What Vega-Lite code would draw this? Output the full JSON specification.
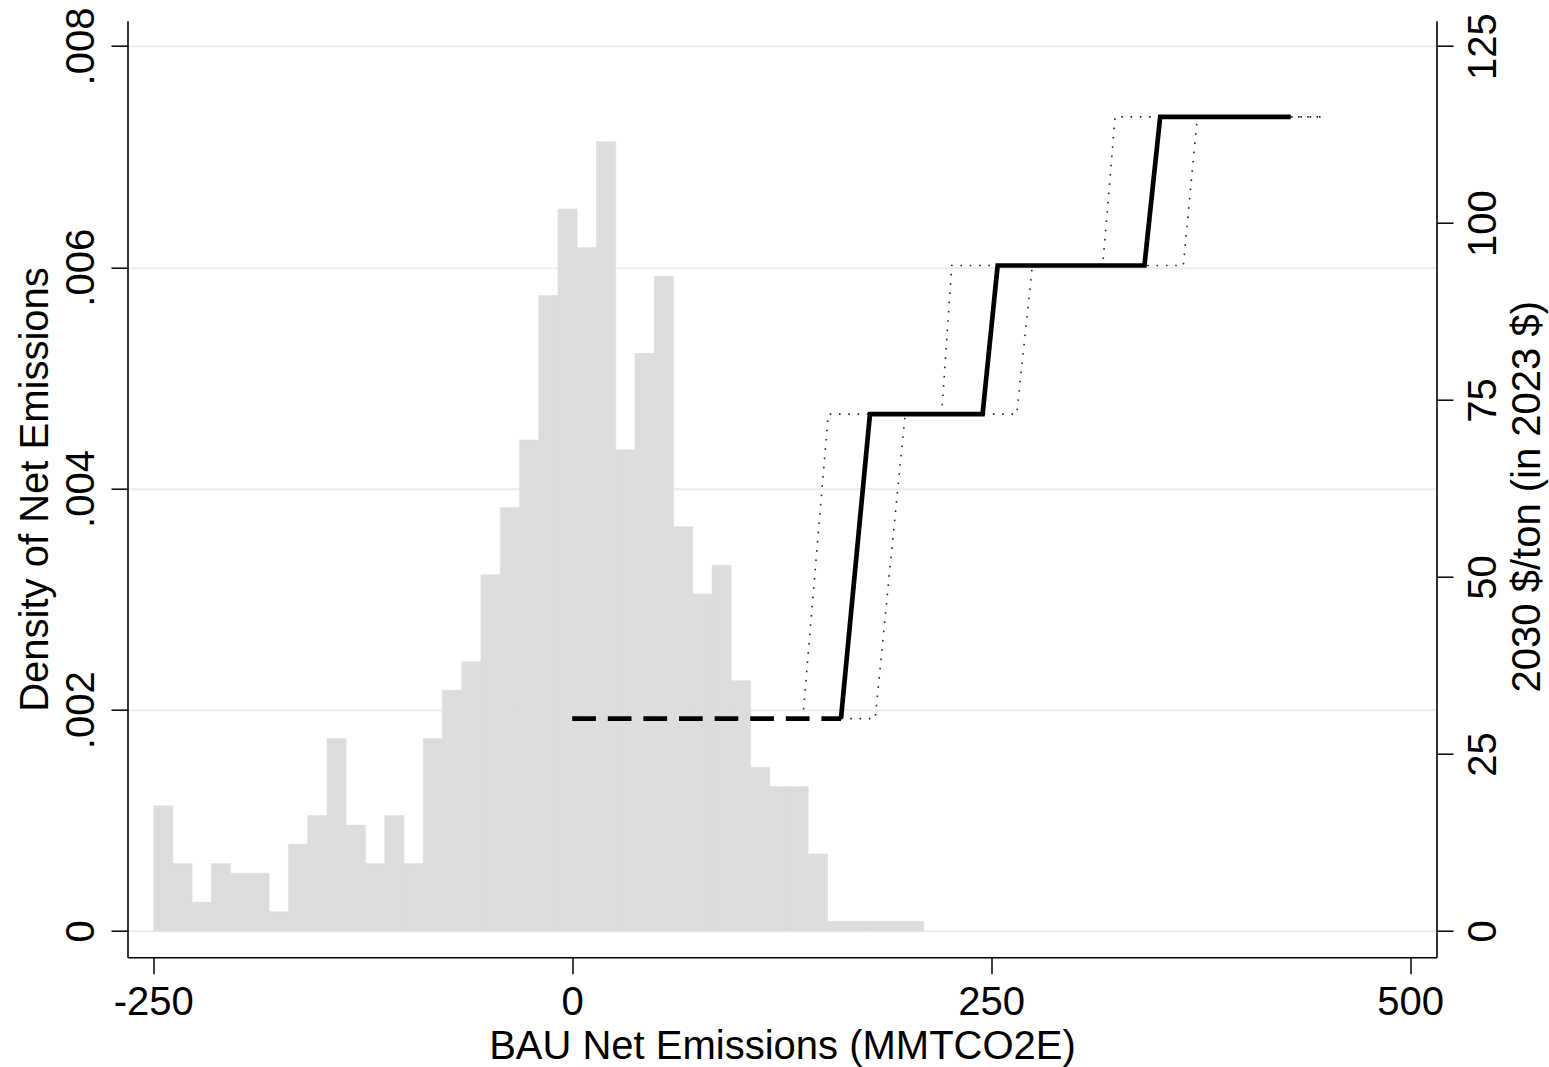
{
  "$schema": "https://vega.github.io/schema/vega-lite/v6.json",
  "width": 1309,
  "height": 936.6,
  "autosize": {"type": "none"},
  "padding": {"left": 127.5, "top": 20.7, "right": 112.5, "bottom": 109.7},
  "background": "white",
  "config": {
    "view": {"stroke": null},
    "font": "Liberation Sans",
    "axis": {
      "labelFont": "Liberation Sans",
      "titleFont": "Liberation Sans",
      "labelFontSize": 40,
      "titleFontSize": 40,
      "titleFontWeight": "normal",
      "labelColor": "#000000",
      "titleColor": "#000000",
      "domainColor": "#000000",
      "domainWidth": 1.6,
      "tickColor": "#000000",
      "tickWidth": 1.5,
      "tickSize": 16.5,
      "labelFlush": false,
      "labelOverlap": false
    },
    "axisBottom": {
      "labelExpr": "datum.value < 0 ? '-' + format(-datum.value, 'd') : format(datum.value, 'd')",
      "labelBaseline": "alphabetic",
      "labelPadding": 40.5,
      "grid": false,
      "titleX": 654.5,
      "titleY": 100.7,
      "titleAlign": "center",
      "titleBaseline": "alphabetic"
    }
  },
  "datasets": {
    "hist": [
      {"x0": -249.80, "x1": -238.31, "density": 0.001131},
      {"x0": -238.31, "x1": -226.82, "density": 0.000609},
      {"x0": -226.82, "x1": -215.33, "density": 0.000261},
      {"x0": -215.33, "x1": -203.84, "density": 0.000609},
      {"x0": -203.84, "x1": -192.35, "density": 0.000522},
      {"x0": -192.35, "x1": -180.86, "density": 0.000522},
      {"x0": -180.86, "x1": -169.37, "density": 0.000174},
      {"x0": -169.37, "x1": -157.88, "density": 0.000783},
      {"x0": -157.88, "x1": -146.39, "density": 0.001044},
      {"x0": -146.39, "x1": -134.90, "density": 0.001741},
      {"x0": -134.90, "x1": -123.41, "density": 0.000957},
      {"x0": -123.41, "x1": -111.92, "density": 0.000609},
      {"x0": -111.92, "x1": -100.43, "density": 0.001044},
      {"x0": -100.43, "x1": -88.94, "density": 0.000609},
      {"x0": -88.94, "x1": -77.45, "density": 0.001741},
      {"x0": -77.45, "x1": -65.96, "density": 0.002176},
      {"x0": -65.96, "x1": -54.47, "density": 0.002437},
      {"x0": -54.47, "x1": -42.98, "density": 0.003220},
      {"x0": -42.98, "x1": -31.49, "density": 0.003829},
      {"x0": -31.49, "x1": -20.00, "density": 0.004439},
      {"x0": -20.00, "x1": -8.51, "density": 0.005744},
      {"x0": -8.51, "x1": 2.98, "density": 0.006527},
      {"x0": 2.98, "x1": 14.47, "density": 0.006179},
      {"x0": 14.47, "x1": 25.96, "density": 0.007136},
      {"x0": 25.96, "x1": 37.45, "density": 0.004351},
      {"x0": 37.45, "x1": 48.94, "density": 0.005222},
      {"x0": 48.94, "x1": 60.43, "density": 0.005918},
      {"x0": 60.43, "x1": 71.92, "density": 0.003655},
      {"x0": 71.92, "x1": 83.41, "density": 0.003046},
      {"x0": 83.41, "x1": 94.90, "density": 0.003307},
      {"x0": 94.90, "x1": 106.39, "density": 0.002263},
      {"x0": 106.39, "x1": 117.88, "density": 0.001480},
      {"x0": 117.88, "x1": 129.37, "density": 0.001305},
      {"x0": 129.37, "x1": 140.86, "density": 0.001305},
      {"x0": 140.86, "x1": 152.35, "density": 0.000696},
      {"x0": 152.35, "x1": 163.84, "density": 0.000087},
      {"x0": 163.84, "x1": 175.33, "density": 0.000087},
      {"x0": 175.33, "x1": 186.82, "density": 0.000087},
      {"x0": 186.82, "x1": 198.31, "density": 0.000087},
      {"x0": 198.31, "x1": 209.80, "density": 0.000087}
    ],
    "lines": [
      {"series": "lower", "x": 137.6, "price": 30},
      {"series": "lower", "x": 152.8, "price": 73},
      {"series": "lower", "x": 220.5, "price": 73},
      {"series": "lower", "x": 226.5, "price": 94},
      {"series": "lower", "x": 316.6, "price": 94},
      {"series": "lower", "x": 324.0, "price": 115},
      {"series": "lower", "x": 449.3, "price": 115},
      {"series": "upper", "x": 160.4, "price": 30},
      {"series": "upper", "x": 180.8, "price": 30},
      {"series": "upper", "x": 198.7, "price": 73},
      {"series": "upper", "x": 265.3, "price": 73},
      {"series": "upper", "x": 274.6, "price": 94},
      {"series": "upper", "x": 364.7, "price": 94},
      {"series": "upper", "x": 373.1, "price": 115},
      {"series": "upper", "x": 449.3, "price": 115},
      {"series": "dashed", "x": 0, "price": 30},
      {"series": "dashed", "x": 160.4, "price": 30},
      {"series": "solid", "x": 160.4, "price": 30},
      {"series": "solid", "x": 177.7, "price": 73},
      {"series": "solid", "x": 244.9, "price": 73},
      {"series": "solid", "x": 253.9, "price": 94},
      {"series": "solid", "x": 341.5, "price": 94},
      {"series": "solid", "x": 350.9, "price": 115},
      {"series": "solid", "x": 428.8, "price": 115}
    ]
  },
  "layer": [
    {
      "data": {"name": "hist"},
      "mark": {"type": "rect", "color": "#dddddd", "stroke": "#dddddd", "strokeWidth": 0.5},
      "encoding": {
        "x": {
          "field": "x0", "type": "quantitative",
          "scale": {"domain": [-265.4, 515.8], "nice": false, "zero": false},
          "axis": {"title": "BAU Net Emissions (MMTCO2E)", "values": [-250, 0, 250, 500]}
        },
        "x2": {"field": "x1"},
        "y": {
          "field": "density", "type": "quantitative",
          "scale": {"domain": [-0.000238, 0.008229], "nice": false, "zero": false},
          "axis": {
            "orient": "left",
            "values": [0, 0.002, 0.004, 0.006, 0.008],
            "labelExpr": "datum.value == 0 ? '0' : replace(format(datum.value, '.3f'), '0.', '.')",
            "labelAngle": 270,
            "labelAlign": "center",
            "labelBaseline": "alphabetic",
            "labelPadding": 17.4,
            "grid": true,
            "gridColor": "#e6eeee",
            "gridWidth": 2,
            "title": "Density of Net Emissions",
            "titleAngle": 270,
            "titleX": -80,
            "titleY": 468.3,
            "titleAlign": "center",
            "titleBaseline": "alphabetic"
          }
        },
        "y2": {"datum": 0}
      }
    },
    {
      "data": {"name": "lines"},
      "transform": [{"filter": "datum.series == 'lower' || datum.series == 'upper'"}],
      "mark": {"type": "line", "color": "#222222", "strokeWidth": 1.6, "strokeDash": [1.6, 7.7], "strokeCap": "butt"},
      "encoding": {
        "x": {
          "field": "x", "type": "quantitative",
          "scale": {"domain": [-265.4, 515.8], "nice": false, "zero": false},
          "axis": {"title": "BAU Net Emissions (MMTCO2E)", "values": [-250, 0, 250, 500]}
        },
        "y": {
          "field": "price", "type": "quantitative",
          "scale": {"domain": [-3.72, 128.58], "nice": false, "zero": false},
          "axis": {
            "orient": "right",
            "values": [0, 25, 50, 75, 100, 125],
            "labelAngle": 270,
            "labelAlign": "center",
            "labelBaseline": "alphabetic",
            "labelPadding": 42,
            "grid": false,
            "title": "2030 $/ton (in 2023 $)",
            "titleAngle": 270,
            "titleX": 102.5,
            "titleY": 475.5,
            "titleAlign": "center",
            "titleBaseline": "alphabetic"
          }
        },
        "detail": {"field": "series", "type": "nominal"}
      }
    },
    {
      "data": {"name": "lines"},
      "transform": [{"filter": "datum.series == 'dashed'"}],
      "mark": {"type": "line", "color": "#000000", "strokeWidth": 4.7, "strokeDash": [23.7, 11.9], "strokeCap": "butt"},
      "encoding": {
        "x": {
          "field": "x", "type": "quantitative",
          "scale": {"domain": [-265.4, 515.8], "nice": false, "zero": false},
          "axis": {"title": "BAU Net Emissions (MMTCO2E)", "values": [-250, 0, 250, 500]}
        },
        "y": {"field": "price", "type": "quantitative", "scale": {"domain": [-3.72, 128.58], "nice": false, "zero": false}, "axis": null}
      }
    },
    {
      "data": {"name": "lines"},
      "transform": [{"filter": "datum.series == 'solid'"}],
      "mark": {"type": "line", "color": "#000000", "strokeWidth": 4.7, "strokeJoin": "miter", "strokeCap": "butt"},
      "encoding": {
        "x": {
          "field": "x", "type": "quantitative",
          "scale": {"domain": [-265.4, 515.8], "nice": false, "zero": false},
          "axis": {"title": "BAU Net Emissions (MMTCO2E)", "values": [-250, 0, 250, 500]}
        },
        "y": {"field": "price", "type": "quantitative", "scale": {"domain": [-3.72, 128.58], "nice": false, "zero": false}, "axis": null}
      }
    }
  ],
  "resolve": {"scale": {"y": "independent"}}
}
